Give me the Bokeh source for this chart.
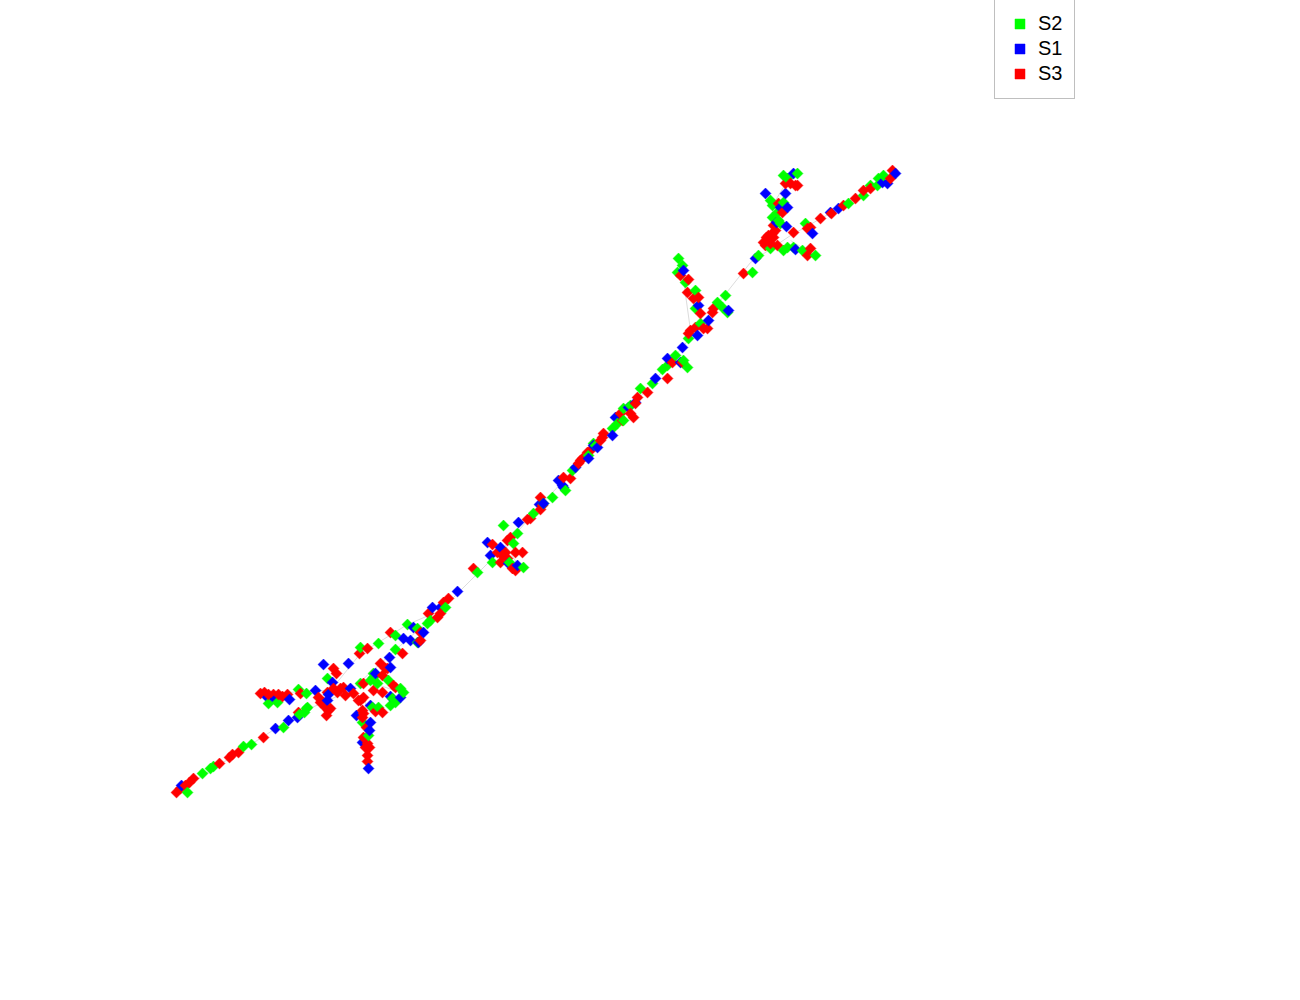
import numpy as np
from bokeh.plotting import figure
from bokeh.models import ColumnDataSource, Range1d, Legend, LegendItem
from bokeh.embed import file_html
from bokeh.resources import INLINE

# ---- data (component 1 / component 2, arbitrary units) ----
s2_x = [18.7, 20.2, 21.0, 21.3, 24.3, 25.1, 28.3, 29.9, 30.6, 30.4, 26.8, 27.7, 29.8, 30.6,
        32.7, 30.7, 36.0, 37.8, 40.7, 39.5, 37.3, 37.0, 37.7, 38.8, 40.0, 40.3, 39.5, 39.0,
        36.0, 37.8, 36.2, 36.8, 39.5, 41.7, 41.7, 42.7, 43.0, 44.5, 47.7, 50.3, 53.3, 54.3,
        51.7, 51.3, 49.2, 52.3, 50.9, 55.2, 56.5, 57.2, 58.8, 59.5, 61.2, 61.7, 63.0, 64.0,
        65.2, 66.2, 66.7, 67.5, 68.7, 68.3, 68.8, 70.0, 67.8, 68.2, 67.7, 68.5, 69.5, 69.5,
        71.7, 72.2, 72.7, 72.5, 75.2, 75.8, 77.0, 78.7, 79.3, 80.2, 81.5, 78.3, 80.5, 84.8,
        86.3, 87.0, 87.7, 87.8, 88.3, 77.0, 77.2, 77.7, 78.3, 77.2, 77.8, 78.0, 78.3, 78.7,
        79.7, 59.3, 62.3, 62.3, 37.3, 39.2, 37.2]
s2_y = [-79.2, -77.3, -76.8, -76.6, -74.6, -74.4, -72.7, -71.4, -70.8, -71.2, -70.3, -70.2, -68.9, -69.3,
        -67.8, -70.7, -64.7, -64.3, -62.4, -64.9, -67.3, -68.0, -68.3, -68.0, -68.8, -69.2, -70.2, -70.5,
        -68.3, -70.7, -72.2, -73.5, -63.5, -62.8, -64.2, -62.3, -62.0, -60.7, -57.2, -52.5, -51.3, -50.3,
        -53.3, -54.3, -56.2, -56.7, -56.2, -49.7, -49.0, -47.0, -45.5, -44.5, -42.8, -42.3, -40.5, -38.8,
        -38.3, -36.9, -36.5, -35.5, -36.7, -36.0, -33.8, -32.3, -25.8, -26.5, -27.2, -28.2, -29.0, -30.8,
        -30.2, -30.7, -31.2, -29.5, -27.2, -25.5, -24.8, -24.7, -24.7, -25.0, -25.5, -25.0, -22.3, -20.3,
        -19.5, -18.5, -18.5, -17.8, -17.5, -20.0, -20.5, -21.2, -20.2, -21.7, -22.0, -22.3, -17.5, -17.8,
        -17.3, -44.3, -42.0, -40.8, -67.7, -69.8, -70.7]

s1_x = [18.1, 27.5, 28.8, 29.7, 26.7, 27.5, 28.9, 31.5, 32.3, 33.2, 32.8, 32.7, 35.0, 34.8,
        38.9, 41.0, 41.8, 39.0, 40.0, 37.0, 35.6, 36.9, 36.2, 36.8, 37.0, 40.3, 41.3, 42.3,
        43.2, 44.0, 45.7, 39.0, 51.8, 53.9, 48.7, 50.0, 49.0, 50.8, 51.7, 55.8, 56.2, 57.5,
        59.3, 61.2, 61.5, 62.8, 65.5, 63.5, 68.0, 68.2, 69.7, 68.3, 69.8, 70.8, 66.7, 72.8,
        75.5, 79.5, 81.2, 83.0, 83.8, 88.2, 88.7, 89.5, 76.5, 78.0, 78.7, 77.6, 78.6, 79.3,
        78.5, 58.8, 56.3, 59.7, 54.3, 37.5]
s1_y = [-78.5, -72.8, -72.0, -71.7, -69.7, -69.9, -69.9, -69.0, -66.4, -68.2, -69.4, -70.0, -68.8, -66.3,
        -65.7, -64.0, -64.2, -69.6, -69.7, -70.5, -71.5, -73.0, -74.2, -76.8, -72.2, -63.8, -62.7, -63.2,
        -60.7, -60.7, -59.1, -66.7, -52.2, -50.4, -54.2, -54.7, -55.5, -56.3, -56.5, -48.0, -48.5, -46.7,
        -44.5, -43.5, -41.7, -40.7, -37.8, -40.2, -36.2, -34.7, -33.5, -27.0, -30.5, -32.0, -35.8, -31.0,
        -25.8, -24.9, -23.3, -21.2, -20.8, -18.2, -18.3, -17.3, -19.3, -20.7, -20.7, -22.2, -22.6, -17.3,
        -19.3, -45.8, -48.7, -44.7, -50.3, -67.3]

s3_x = [17.6, 18.0, 18.5, 18.9, 19.3, 21.9, 22.9, 23.2, 23.8, 26.3, 26.0, 26.4, 26.8, 27.3,
        27.8, 28.2, 28.7, 30.0, 33.3, 33.6, 33.3, 34.0, 34.3, 33.7, 31.8, 32.0, 32.5, 33.0,
        32.6, 29.8, 34.5, 35.3, 35.9, 36.7, 39.0, 40.2, 38.0, 38.5, 38.2, 39.3, 37.3, 36.3,
        36.0, 38.2, 36.3, 37.5, 36.2, 36.6, 36.3, 36.7, 36.5, 36.9, 36.7, 36.7, 36.2, 42.0,
        42.0, 42.8, 43.7, 44.0, 44.3, 44.8, 47.3, 52.7, 53.0, 54.0, 49.2, 50.7, 51.0, 50.2,
        50.5, 50.7, 50.0, 51.5, 52.2, 51.2, 51.5, 49.7, 54.0, 56.3, 57.0, 57.8, 58.2, 58.7,
        59.2, 60.2, 60.3, 62.0, 62.2, 63.3, 63.5, 64.7, 63.7, 66.7, 67.2, 69.0, 69.5, 70.3,
        68.0, 68.8, 68.7, 69.3, 69.8, 70.0, 70.7, 68.8, 68.2, 71.2, 71.3, 74.3, 76.5, 77.0,
        77.3, 76.8, 77.7, 80.7, 81.0, 79.3, 80.7, 81.0, 82.0, 83.1, 84.3, 85.5, 86.3, 87.0,
        89.0, 89.2, 78.2, 77.8, 77.3, 77.5, 77.2, 76.6, 76.3, 78.5, 79.0, 79.5, 79.7,
        58.0, 60.0, 63.0, 54.2, 36.3, 38.7, 38.2, 35.8, 39.5, 32.3, 32.8, 32.7]
s3_y = [-79.2, -78.8, -78.5, -78.2, -77.8, -76.3, -75.7, -75.4, -75.2, -73.7, -69.3, -69.2, -69.4, -69.4,
        -69.4, -69.6, -69.4, -69.3, -66.8, -67.3, -68.8, -68.8, -68.7, -69.2, -69.7, -70.2, -70.7, -70.8,
        -71.5, -71.2, -69.5, -69.3, -65.3, -64.8, -63.2, -65.3, -66.3, -66.8, -67.5, -68.5, -69.0, -69.7,
        -70.0, -71.2, -71.3, -71.1, -71.7, -72.7, -73.7, -74.3, -74.7, -74.7, -75.5, -76.1, -71.0, -63.2,
        -64.0, -61.3, -61.7, -61.3, -60.2, -59.8, -56.8, -51.9, -51.8, -50.9, -54.4, -54.0, -53.7, -55.5,
        -55.2, -55.8, -56.2, -55.2, -55.2, -56.8, -57.0, -55.2, -49.7, -47.7, -47.8, -46.3, -45.8, -45.2,
        -44.8, -43.7, -43.3, -41.3, -42.0, -41.7, -40.3, -39.2, -39.7, -37.8, -36.2, -33.0, -32.7, -32.8,
        -27.5, -27.9, -29.2, -29.8, -29.7, -31.3, -32.8, -33.3, -36.2, -31.2, -30.8, -27.3, -24.5, -24.3,
        -23.7, -23.5, -24.5, -25.5, -24.8, -23.2, -22.8, -22.7, -21.8, -21.3, -20.5, -19.8, -19.0, -18.8,
        -17.8, -17.0, -21.2, -20.3, -22.5, -23.0, -23.3, -23.7, -24.2, -18.3, -18.3, -18.5, -18.5,
        -46.0, -44.0, -41.3, -50.5, -68.3, -66.8, -69.2, -70.0, -68.7, -70.2, -71.0, -69.2]

series_labels = ["S2", "S1", "S3"]
series_colors = ["#00ff00", "#0000ff", "#ff0000"]

# tree skeleton (branch paths)
tree_xs = [
    [17.6, 30.0, 35.0, 40.0, 44.0, 47.5, 50.5, 54.0, 60.0, 65.0, 70.0, 75.0, 79.0, 84.0, 89.5],
    [33.0, 26.2],
    [36.5, 36.8],
    [33.0, 36.0, 40.7, 44.0],
    [36.5, 40.0],
    [50.5, 52.0],
    [69.0, 68.0],
    [77.5, 77.2, 79.0],
    [79.0, 81.5],
]
tree_ys = [
    [-79.2, -71.2, -69.0, -64.5, -61.0, -57.5, -54.5, -50.5, -44.0, -38.5, -32.5, -26.2, -23.5, -20.7, -17.3],
    [-69.0, -69.3],
    [-70.0, -76.8],
    [-69.0, -65.3, -62.4, -61.0],
    [-68.0, -69.2],
    [-54.5, -56.8],
    [-33.0, -25.8],
    [-24.0, -20.5, -17.5],
    [-24.0, -25.5],
]

# ---- combine series into one interleaved source ----
all_x = np.array(s2_x + s1_x + s3_x)
all_y = np.array(s2_y + s1_y + s3_y)
all_c = np.array([series_colors[0]] * len(s2_x) + [series_colors[1]] * len(s1_x) + [series_colors[2]] * len(s3_x))
all_s = np.array([0] * len(s2_x) + [1] * len(s1_x) + [2] * len(s3_x))
order = np.argsort(all_x, kind="stable")
src = ColumnDataSource(dict(x=all_x[order], y=all_y[order], c=all_c[order]))
sorted_s = all_s[order]

p = figure(width=1284, height=984, output_backend="svg", toolbar_location=None,
           x_range=Range1d(0.0, 128.4), y_range=Range1d(-98.4, 0.0),
           x_axis_location=None, y_axis_location=None, min_border=0)
p.grid.visible = False
p.outline_line_color = None
p.background_fill_color = "white"
p.border_fill_color = "white"

p.multi_line(xs=tree_xs, ys=tree_ys, line_color="#dcdcdc", line_width=1)
r = p.scatter(x="x", y="y", source=src, marker="square", size=7.8, angle=np.pi / 4,
              fill_color="c", line_color="c", line_width=0.5)

items = []
for k, lab in enumerate(series_labels):
    idx = int(np.where(sorted_s == k)[0][0])
    items.append(LegendItem(label=lab, renderers=[r], index=idx))

legend = Legend(items=items, location=(994, 885), margin=0, padding=12, spacing=0,
                glyph_width=25, glyph_height=25, label_height=25, label_width=24,
                label_standoff=6, label_text_font="Liberation Sans",
                label_text_font_size="20px", label_text_color="black",
                border_line_color="#808080", border_line_width=1,
                background_fill_color="white", background_fill_alpha=1.0)
p.add_layout(legend)

open("out.html", "w").write(file_html(p, INLINE))
